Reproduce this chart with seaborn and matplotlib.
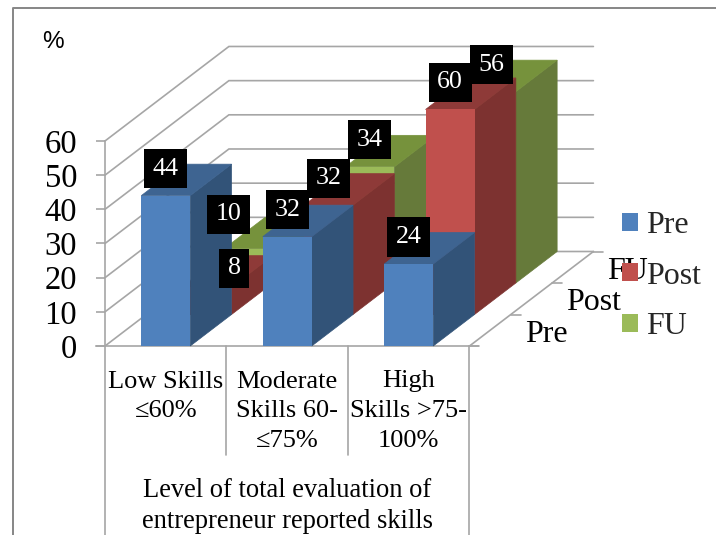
import pandas as pd
import matplotlib
matplotlib.use("Agg")
import matplotlib.pyplot as plt
import seaborn as sns
from matplotlib.lines import Line2D
from matplotlib.patches import Patch

# Chart values
categories = ["Low Skills\n\u226460%", "Moderate\nSkills 60-\n\u226475%", "High\nSkills >75-\n100%"]
series_names = ["Pre", "Post", "FU"]
pre_values = [44, 32, 24]
post_values = [8, 32, 60]
fu_values = [10, 34, 56]
y_ticks = [0, 10, 20, 30, 40, 50, 60]
x_title = "Level of total evaluation of\nentrepreneur reported skills"

front_colors = ["#4F81BD", "#C0504D", "#9BBB59"]
side_colors = ["#325378", "#7D3230", "#667A3A"]
top_colors = ["#3E6491", "#8E3A38", "#76923C"]
grid_color = "#A6A6A6"

# Scale of the front plane in pixels, and the oblique depth step of one series
px_x = 121.5
px_y = 3.417
x0_px = 105
y0_px = 346
dx = 41.3 / px_x
dy = 31.5 / px_y

sns.set_theme(style="white")
plt.rcParams["font.family"] = ["Liberation Serif", "DejaVu Sans"]

fig = plt.figure(figsize=(7.16, 5.35), dpi=100)
ax = fig.add_axes([0, 0, 1, 1])
ax.patch.set_alpha(0)

# Long table for the bars
rows = []
for s, vals in zip(series_names, [pre_values, post_values, fu_values]):
    for i, v in enumerate(vals):
        rows.append({"series": s, "cat": i, "value": v})
df = pd.DataFrame(rows)
df["depth"] = df["series"].map({name: i for i, name in enumerate(series_names)})
df["pos"] = df["cat"] + 0.5 + df["depth"] * dx

# Walls and floor
n_cat = len(categories)
n_depth = len(series_names)
for v in y_ticks:
    ax.plot([0, n_depth * dx, n_cat + n_depth * dx],
            [v, v + n_depth * dy, v + n_depth * dy],
            color=grid_color, lw=1.2, zorder=1, solid_joinstyle="miter")
ax.plot([n_cat, n_cat + n_depth * dx], [0, n_depth * dy], color=grid_color, lw=1.2, zorder=1)

# Depth axis ticks and labels
tick_len = 10 / px_x
for d in range(n_depth + 1):
    ax.plot([n_cat + d * dx, n_cat + d * dx + tick_len], [d * dy, d * dy],
            color=grid_color, lw=1.2, zorder=1)
for d, name in enumerate(series_names):
    ax.annotate(name, xy=(n_cat + (d + 0.5) * dx, (d + 0.5) * dy),
                xytext=(25, -3), textcoords="offset points",
                fontsize=23, ha="left", va="center", color="black", zorder=2)

# Bars, back to front
for depth in reversed(range(n_depth)):
    sub = df[df["depth"] == depth]
    sns.barplot(data=sub, x="pos", y="value", native_scale=True, width=0.403,
                color=front_colors[depth], saturation=1, linewidth=0,
                bottom=depth * dy, legend=False, ax=ax, zorder=6 - depth * 0.1)
    for bar in ax.containers[-1]:
        x, y = bar.get_x(), bar.get_y()
        w, h = bar.get_width(), bar.get_height()
        z = bar.get_zorder()
        ax.fill([x + w, x + w + dx, x + w + dx, x + w],
                [y, y + dy, y + h + dy, y + h],
                fc=side_colors[depth], ec=side_colors[depth], lw=0.5, zorder=z)
        ax.fill([x, x + dx, x + w + dx, x + w],
                [y + h, y + h + dy, y + h + dy, y + h],
                fc=top_colors[depth], ec=top_colors[depth], lw=0.5, zorder=z)
        # front face goes back on top of the seams
        bar.set_zorder(z + 0.01)

# Data labels; the 8 and the 10 were moved by hand in the original
label_nudge = {("Post", 0): (27, -8), ("FU", 0): (-20, 7.5)}
for _, r in df.iterrows():
    top = r["value"] + r["depth"] * dy
    off = label_nudge.get((r["series"], r["cat"]), (0, 0))
    ax.annotate(str(r["value"]), xy=(r["pos"], top),
                xytext=(off[0] * 0.72, (27 + off[1]) * 0.72), textcoords="offset points",
                ha="center", va="center", fontsize=18.7, color="white", zorder=10,
                bbox=dict(boxstyle="square,pad=0.33", fc="black", ec="none"))

# Axes furniture
ax.set_xlim(-x0_px / px_x, (716 - x0_px) / px_x)
ax.set_ylim((y0_px - 535) / px_y, y0_px / px_y)
ax.set_xlabel("")
ax.set_ylabel("")
ax.set_xticks([])
ax.set_yticks(y_ticks)
ax.tick_params(axis="y", length=6.5, width=1.2, color=grid_color, pad=13.5,
               labelsize=23.5, labelcolor="black", left=True)
sns.despine(ax=ax, top=True, right=True)
ax.spines["left"].set_position(("data", 0))
ax.spines["left"].set_bounds(0, 60)
ax.spines["bottom"].set_position(("data", 0))
ax.spines["bottom"].set_bounds(-9 / px_x, n_cat + 9 / px_x)
for side in ["left", "bottom"]:
    ax.spines[side].set_color(grid_color)
    ax.spines[side].set_linewidth(1.2)
    ax.spines[side].set_zorder(2)

# Multi-level category separators
bottom_y = (y0_px - 535) / px_y
mid_y = (y0_px - 455) / px_y
for i in range(n_cat + 1):
    ax.plot([i, i], [0, bottom_y if i in (0, n_cat) else mid_y],
            color=grid_color, lw=1.2, zorder=2, clip_on=False)
for i, c in enumerate(categories):
    ax.text(i + 0.5, -24.5 / px_y, c, ha="center", va="top", fontsize=19,
            linespacing=1.47, color="black")
ax.text(n_cat / 2, -(506 - y0_px) / px_y, x_title, ha="center", va="center",
        fontsize=19.1, linespacing=1.34, color="black")

# Percent sign above the value axis
ax.text(-(x0_px - 52.5) / px_x, (y0_px - 42) / px_y, "%", family="Liberation Sans",
        fontsize=17.5, ha="center", va="center", color="black")

# Legend
handles = [Patch(color=c, lw=0, label=n) for c, n in zip(front_colors, series_names)]
leg = ax.legend(handles=handles, loc="upper left", frameon=False,
                bbox_to_anchor=(622 / 716, 1 - 211 / 535), fontsize=23,
                handlelength=0.5, handleheight=0.5, handletextpad=0.25,
                labelspacing=0.68, borderpad=0, borderaxespad=0)
leg.set_zorder(20)

# Outer chart frame, only top and left reach the picture
fig.add_artist(Line2D([13 / 716, 13 / 716, 1], [0, 1 - 8 / 535, 1 - 8 / 535],
                      color="#868686", lw=1.4))

fig.savefig("out.png", dpi=100)
